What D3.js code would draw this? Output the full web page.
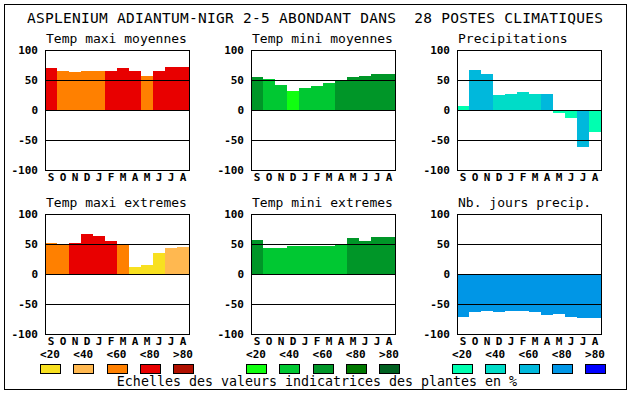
<!DOCTYPE html>
<html>
<head>
<meta charset="utf-8">
<script src="https://cdn.jsdelivr.net/npm/d3@7"></script>
<style>
html,body{margin:0;padding:0;background:#fff;}
svg{display:block;}
</style>
</head>
<body>
<svg id="chart" width="630" height="394"></svg>
<script>
// ---------------- DATA ----------------
const title = "ASPLENIUM ADIANTUM-NIGR 2-5 ABONDANT DANS  28 POSTES CLIMATIQUES";
const months = ["S","O","N","D","J","F","M","A","M","J","J","A"];
const yTicks = [100, 50, 0, -50, -100];
const legendLabels = ["<20","<40","<60","<80",">80"];
const caption = "Echelles des valeurs indicatrices des plantes en %";

const warmPalette = ["#f8e020","#ffb850","#ff8000","#e80000","#b01000"];
const greenPalette = ["#10ff10","#00c832","#009628","#007800","#006020"];
const bluePalette = ["#00ffb0","#00dcc8","#00b8dc","#0096e6","#0000ff"];

const panelTitles = ["Temp maxi moyennes","Temp mini moyennes","Precipitations",
                     "Temp maxi extremes","Temp mini extremes","Nb. jours precip."];

const tmaxMoyValues  = [70,65,63,65,65,65,70,65,57,65,72,72];
const tmaxMoyClasses = [3,2,2,2,2,3,3,3,2,3,3,3];

const tminMoyValues  = [55,52,42,32,37,40,45,48,55,57,60,60];
const tminMoyClasses = [2,1,1,0,1,1,1,2,2,2,2,2];

const precipValues   = [7,67,60,25,27,30,27,27,-5,-13,-62,-37];
const precipClasses  = [0,2,2,1,1,1,1,2,0,0,2,0];

const tmaxExtValues  = [52,50,52,67,63,55,49,12,15,35,43,45];
const tmaxExtClasses = [2,2,3,3,3,3,2,0,0,0,1,1];

const tminExtValues  = [57,43,43,47,47,47,47,48,60,55,62,62];
const tminExtClasses = [2,1,1,1,1,1,1,1,2,2,2,2];

const joursValues    = [-71,-64,-62,-63,-62,-62,-63,-68,-67,-71,-73,-74];
const joursClasses   = [3,3,3,3,3,3,3,3,3,3,3,3];

// ---------------- LAYOUT ----------------
const svg = d3.select("#chart");
const mono = "'DejaVu Sans Mono', 'Liberation Mono', monospace";
const colLefts = [45, 251, 457];
const rowTops = [50, 214];
const boxW = 144, boxH = 120;

svg.append("rect").attr("x",0).attr("y",0).attr("width",630).attr("height",394).attr("fill","#fff");
svg.append("rect").attr("x",4.5).attr("y",4.5).attr("width",622).attr("height",385)
  .attr("fill","none").attr("stroke","#000").attr("stroke-width",1);

svg.append("text").attr("x",27).attr("y",23)
  .attr("font-family",mono).attr("font-size",14.5)
  .attr("textLength",576).attr("lengthAdjust","spacing")
  .style("white-space","pre").attr("xml:space","preserve")
  .attr("fill","#000").text(title);

const panels = [
  {values:tmaxMoyValues, classes:tmaxMoyClasses, palette:warmPalette},
  {values:tminMoyValues, classes:tminMoyClasses, palette:greenPalette},
  {values:precipValues,  classes:precipClasses,  palette:bluePalette},
  {values:tmaxExtValues, classes:tmaxExtClasses, palette:warmPalette},
  {values:tminExtValues, classes:tminExtClasses, palette:greenPalette},
  {values:joursValues,   classes:joursClasses,   palette:bluePalette}
];

panels.forEach((p, k) => {
  const left = colLefts[k % 3];
  const top = rowTops[Math.floor(k / 3)];
  const g = svg.append("g");
  const x = d3.scaleBand().domain(d3.range(months.length)).range([left, left + boxW]).padding(0);
  const y = d3.scaleLinear().domain([-100, 100]).range([top + boxH, top]);

  g.append("text").attr("x", left + 1).attr("y", top - 7)
    .attr("font-family", mono).attr("font-size", 13).attr("fill","#000")
    .text(panelTitles[k]);

  g.selectAll("rect.bar").data(p.values).enter().append("rect")
    .attr("class","bar")
    .attr("x", (d,i) => x(i))
    .attr("width", x.bandwidth())
    .attr("y", d => y(Math.max(0, d)))
    .attr("height", d => Math.abs(y(d) - y(0)))
    .attr("fill", (d,i) => p.palette[p.classes[i]])
    .attr("shape-rendering","crispEdges");

  g.selectAll("line.grid").data([50, 0, -50]).enter().append("line")
    .attr("x1", left).attr("x2", left + boxW)
    .attr("y1", d => Math.round(y(d)) + 0.5).attr("y2", d => Math.round(y(d)) + 0.5)
    .attr("stroke","#000").attr("stroke-width",1);

  g.append("rect").attr("x", left + 0.5).attr("y", top + 0.5)
    .attr("width", boxW).attr("height", boxH)
    .attr("fill","none").attr("stroke","#000").attr("stroke-width",1);

  const ya = g.append("g").attr("transform", `translate(${left},0)`)
    .call(d3.axisLeft(y).tickValues(yTicks).tickSize(0).tickPadding(7).tickFormat(d => String(d)));
  ya.select(".domain").remove();
  ya.selectAll("text").attr("font-family", mono).attr("font-size", 11).attr("font-weight","bold").attr("fill","#000");

  const xa = g.append("g").attr("transform", `translate(0,${top + boxH})`)
    .call(d3.axisBottom(x).tickSize(0).tickPadding(3).tickFormat(i => months[i]));
  xa.select(".domain").remove();
  xa.selectAll("text").attr("font-family", mono).attr("font-size", 11).attr("font-weight","bold").attr("fill","#000");
});

// legends
[warmPalette, greenPalette, bluePalette].forEach((pal, c) => {
  const left = colLefts[c];
  const lx = d3.scalePoint().domain(legendLabels).range([left - 5, left + 128]);
  const g = svg.append("g");
  g.selectAll("text").data(legendLabels).enter().append("text")
    .attr("x", d => lx(d) + 10).attr("y", 358)
    .attr("text-anchor","middle")
    .attr("font-family", mono).attr("font-size", 11).attr("font-weight","bold").attr("fill","#000")
    .text(d => d);
  g.selectAll("rect").data(legendLabels).enter().append("rect")
    .attr("x", d => Math.round(lx(d)) + 0.5).attr("y", 364.5)
    .attr("width", 20).attr("height", 9)
    .attr("fill", (d,i) => pal[i]).attr("stroke","#000").attr("stroke-width",1);
});

svg.append("text").attr("x", 317).attr("y", 386)
  .attr("text-anchor","middle")
  .attr("font-family", mono).attr("font-size", 13.3).attr("fill","#000")
  .text(caption);
</script>
</body>
</html>
